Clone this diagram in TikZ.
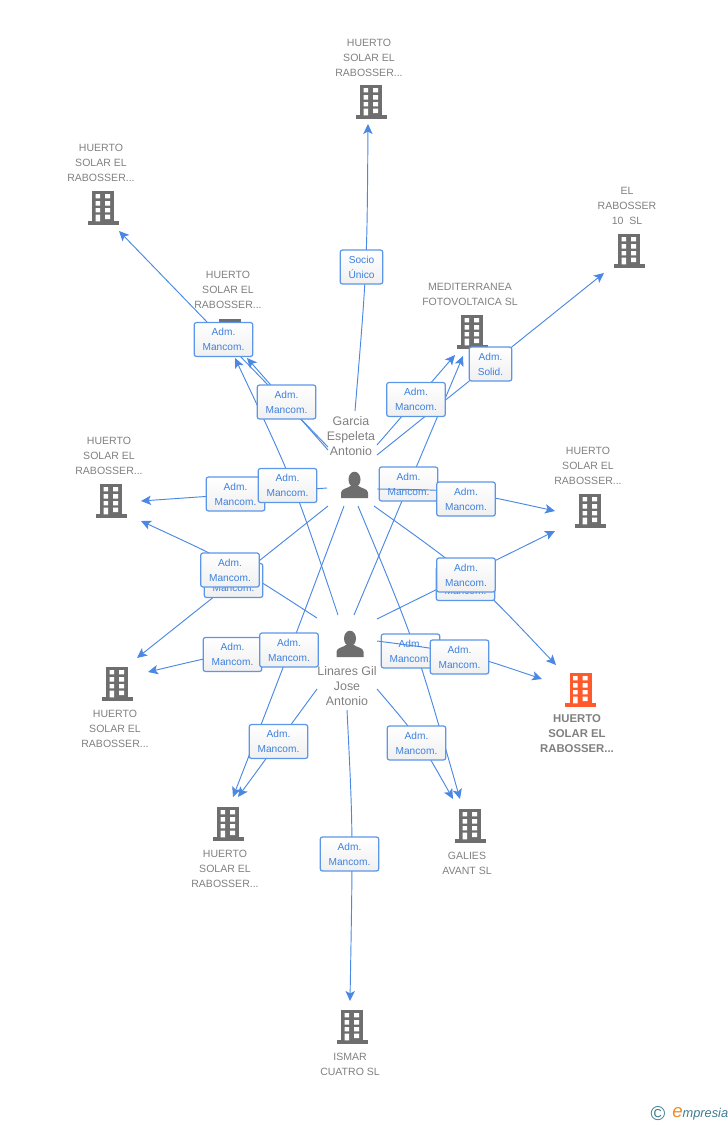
\documentclass[tikz,border=0pt]{standalone}
\usepackage{fontspec}
\setmainfont{Liberation Sans}
\usetikzlibrary{arrows.meta}
\definecolor{lnk}{HTML}{4A88E4}
\definecolor{lbltxt}{HTML}{3D80DE}
\definecolor{lblbrd}{HTML}{5C96E8}
\definecolor{gtxt}{HTML}{808080}
\definecolor{bgray}{HTML}{6E6E6E}
\definecolor{borange}{HTML}{FF5A2C}
\definecolor{logot}{HTML}{3B7C92}
\definecolor{logoo}{HTML}{F08A24}
\tikzset{
  x=0.75pt,y=-0.75pt,
  cn/.style={draw=lnk,line width=0.7pt},
  arr/.style={cn,-{Stealth[length=7.5pt,width=7pt,inset=1.8pt]}},
  lblbox/.style={draw=lblbrd,line width=0.9pt,rounded corners=1.8pt,top color=white,bottom color=white!94!black,
    minimum width=44pt,minimum height=25.5pt,inner sep=0pt,text=lbltxt,align=center,
    font=\fontsize{7.6}{11.25}\selectfont},
  narrowbox/.style={lblbox,minimum width=32pt},
  nametxt/.style={text=gtxt,align=center,inner sep=0pt,font=\fontsize{7.9}{11.25}\selectfont},
  boldtxt/.style={text=gtxt,align=center,inner sep=0pt,font=\fontsize{8.5}{11.25}\selectfont\bfseries},
  persontxt/.style={text=gtxt,align=center,inner sep=0pt,font=\fontsize{9.3}{11.25}\selectfont},
  bldmark/.style={inner sep=0pt,minimum width=23pt,minimum height=25pt}
}
% \bld{name}{x}{y}{colour}
\newcommand{\bld}[4]{%
  \node[bldmark] (#1) at (#2,#3) {};
  \begin{scope}[shift={(#2,#3)}]
    \fill[#4] (-11,-16.7) rectangle (11,13.4);
    \fill[#4] (-15.5,13.4) rectangle (15.5,16.7);
    \fill[white] (-7.4,-14) rectangle (-2.8,-9.6) (2.2,-14) rectangle (7,-9.6)
      (-7.4,-6.9) rectangle (-2.8,-2.5) (2.2,-6.9) rectangle (7,-2.5)
      (-7.4,0.2) rectangle (-2.8,4.4) (2.2,0.2) rectangle (7,4.4)
      (-7.4,6.7) rectangle (-2.8,13.4) (2.2,6.7) rectangle (7,11);
  \end{scope}}
% \persn{name}{x}{y}
\newcommand{\persn}[3]{%
  \node[inner sep=0pt,minimum width=20pt,minimum height=20pt] (#1) at (#2,#3) {};
  \begin{scope}[shift={(#2,#3)}]
    \fill[bgray] (0,-5.5) ellipse (6 and 7.8);
    \fill[bgray] (-13.5,13) -- (-13.5,7.5) .. controls (-13,3.5) and (-7,3.5) .. (-4,1) -- (4,1)
       .. controls (7,3.5) and (13,3.5) .. (13.5,7.5) -- (13.5,13) -- cycle;
  \end{scope}}
\begin{document}
\begin{tikzpicture}
\useasboundingbox (0,0) rectangle (728,1125);
% buildings
\bld{bTop}{371}{102}{bgray}
\bld{bTL}{103}{208}{bgray}
\bld{bMidL}{230}{336}{bgray}
\bld{bMed}{472}{332}{bgray}
\bld{bEl}{629}{251}{bgray}
\bld{bLeft}{111}{501}{bgray}
\bld{bRight}{590}{511}{bgray}
\bld{bLow}{117}{684}{bgray}
\bld{bMain}{580.5}{690}{borange}
\bld{bBot}{228}{824}{bgray}
\bld{bGal}{470}{826}{bgray}
\bld{bIsm}{352}{1027}{bgray}
% names
\node[nametxt] (tTop) at (369,57.5) {HUERTO\\SOLAR EL\\RABOSSER...};
\node[nametxt] (tTL) at (101,162.5) {HUERTO\\SOLAR EL\\RABOSSER...};
\node[nametxt] (tMidL) at (228,289.5) {HUERTO\\SOLAR EL\\RABOSSER...};
\node[nametxt] (tMed) at (470,294) {MEDITERRANEA\\FOTOVOLTAICA SL};
\node[nametxt] (tEl) at (627,205.5) {EL\\RABOSSER\\10\ \ SL};
\node[nametxt] (tLeft) at (109,455.5) {HUERTO\\SOLAR EL\\RABOSSER...};
\node[nametxt] (tRight) at (588,465.5) {HUERTO\\SOLAR EL\\RABOSSER...};
\node[nametxt] (tLow) at (115,728.5) {HUERTO\\SOLAR EL\\RABOSSER...};
\node[boldtxt] (tMain) at (577,733.5) {HUERTO\\SOLAR EL\\RABOSSER...};
\node[nametxt] (tBot) at (225,868.5) {HUERTO\\SOLAR EL\\RABOSSER...};
\node[nametxt] (tGal) at (467,863) {GALIES\\AVANT SL};
\node[nametxt] (tIsm) at (350,1064) {ISMAR\\CUATRO SL};
% persons
\persn{garcia}{354.5}{485}
\persn{linares}{350}{644}
\node[persontxt] (tGarcia) at (351,436.5) {Garcia\\Espeleta\\Antonio};
\node[persontxt] (tLinares) at (347,686.5) {Linares Gil\\Jose\\Antonio};
% connector ends
\coordinate (g1) at (355,411);  \coordinate (a1) at (368,124);
\coordinate (g2) at (328,447);  \coordinate (a2) at (119,231);
\coordinate (g3) at (328,450);  \coordinate (a3) at (247,358);
\coordinate (l4) at (338,615);  \coordinate (a4) at (235,358);
\coordinate (g5) at (327,488);  \coordinate (a5) at (141,501);
\coordinate (g6) at (328,506);  \coordinate (a6) at (137,658);
\coordinate (l7) at (317,618);  \coordinate (a7) at (141,521);
\coordinate (l8) at (318,645);  \coordinate (a8) at (148,672);
\coordinate (l9) at (317,689);  \coordinate (a9) at (238,797);
\coordinate (g10) at (344,506); \coordinate (a10) at (233,797);
\coordinate (l11) at (377,689); \coordinate (a11) at (453,799);
\coordinate (g12) at (358,506); \coordinate (a12) at (460,799);
\coordinate (l13) at (347,710); \coordinate (a13) at (350,1001);
\coordinate (l14) at (354,615); \coordinate (a14) at (463,356);
\coordinate (g15) at (377,445); \coordinate (a15) at (455,355);
\coordinate (g16) at (377,455); \coordinate (a16) at (604,273);
\coordinate (g17) at (377,489); \coordinate (a17) at (555,511);
\coordinate (g18) at (374,506); \coordinate (a18) at (556,665);
\coordinate (l19) at (377,619); \coordinate (a19) at (555,531);
\coordinate (l20) at (377,641); \coordinate (a20) at (542,679);
% connectors under the labels
\draw[arr] (g1) .. controls (367,267) .. (a1);
\draw[arr] (g2) -- (a2);
\draw[arr] (g3) -- (a3);
\draw[arr] (l4) .. controls (294,483) .. (a4);
\draw[arr] (g5) -- (a5);
\draw[arr] (g6) -- (a6);
\draw[arr] (l7) .. controls (232,563) .. (a7);
\draw[arr] (l8) .. controls (232,652) .. (a8);
\draw[arr] (l9) -- (a9);
\draw[arr] (g10) .. controls (290,650) .. (a10);
\draw[arr] (l11) .. controls (418,737) .. (a11);
\draw[arr] (g12) .. controls (416,645) .. (a12);
\draw[arr] (l13) .. controls (353,830) .. (a13);
\draw[arr] (l14) -- (a14);
\draw[arr] (g15) -- (a15);
\draw[arr] (g16) -- (a16);
\draw[arr] (g18) .. controls (472,576) .. (a18);
\draw[arr] (l19) -- (a19);
% labels
\node[narrowbox] (e1) at (361.5,267) {Socio\\Único};
\node[lblbox] (e2) at (223.5,339.5) {Adm.\\Mancom.};
\node[lblbox] (e3) at (286.5,402) {Adm.\\Mancom.};
\node[lblbox] (e5) at (235.5,494) {Adm.\\Mancom.};
\node[lblbox] (e4) at (287.5,485.5) {Adm.\\Mancom.};
\node[lblbox] (e6) at (233.5,580.5) {Adm.\\Mancom.};
\node[lblbox] (e7) at (230,570) {Adm.\\Mancom.};
\node[lblbox] (e8) at (232.5,654.5) {Adm.\\Mancom.};
\node[lblbox] (e10) at (289,650) {Adm.\\Mancom.};
\node[lblbox] (e9) at (278.5,741.5) {Adm.\\Mancom.};
\node[lblbox] (e11) at (416.5,743) {Adm.\\Mancom.};
\node[lblbox] (e12) at (410.5,651) {Adm.\\Mancom.};
\node[lblbox] (e13) at (349.5,854) {Adm.\\Mancom.};
\node[lblbox] (e14) at (408.5,484) {Adm.\\Mancom.};
\node[lblbox] (e15) at (416,399.5) {Adm.\\Mancom.};
\node[narrowbox] (e16) at (490.5,364) {Adm.\\Solid.};
\node[lblbox] (e18) at (465.5,583.5) {Adm.\\Mancom.};
\node[lblbox] (e19) at (466,575) {Adm.\\Mancom.};
% connectors drawn over earlier labels
\draw[arr] (g17) .. controls (460,490) .. (a17);
\node[lblbox] (e17) at (466,499) {Adm.\\Mancom.};
\draw[arr] (l20) .. controls (462,652) .. (a20);
\node[lblbox] (e20) at (459.5,657) {Adm.\\Mancom.};
% logo
\node[text=logot,inner sep=0pt,font=\fontsize{15}{15}\selectfont] (logoC) at (658,1114) {©};
\node[anchor=west,inner sep=0pt,text=logot,font=\fontsize{9.6}{11}\selectfont\itshape] (logoT) at (672,1114)
  {\textcolor{logoo}{\fontsize{14}{14}\selectfont e}mpresia};
\end{tikzpicture}
\end{document}
